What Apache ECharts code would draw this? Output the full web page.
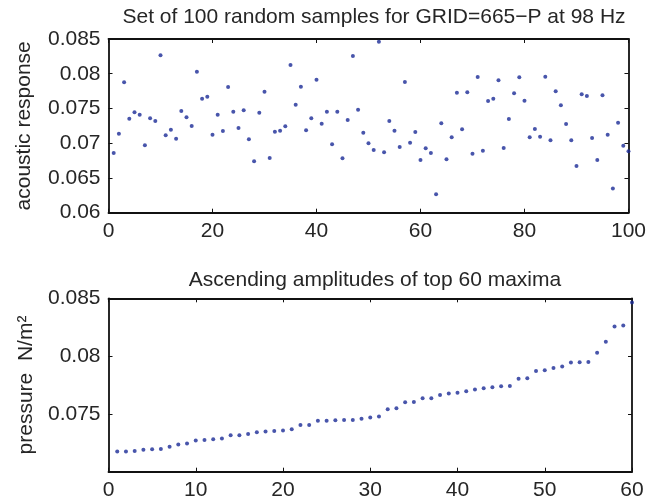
<!DOCTYPE html>
<html>
<head>
<meta charset="utf-8">
<script src="https://cdn.jsdelivr.net/npm/echarts@6/dist/echarts.min.js"></script>
<style>
html,body{margin:0;padding:0;background:#fff;}
#chart{width:649px;height:504px;}
</style>
</head>
<body>
<div id="chart"></div>
<script>
// ---- data ----
var topTitle = 'Set of 100 random samples for GRID=665\u2212P at 98 Hz';
var bottomTitle = 'Ascending amplitudes of top 60 maxima';
var topYLabel = 'acoustic response';
var bottomYLabel = 'pressure  N/m\u00B2';

var topSamples = [
  0.06859, 0.07137, 0.07876, 0.07353, 0.07444, 0.07411, 0.06969, 0.07358, 0.07320, 0.08265,
  0.07113, 0.07195, 0.07065, 0.07464, 0.07372, 0.07248, 0.08030, 0.07641, 0.07670, 0.07123,
  0.07411, 0.07176, 0.07809, 0.07454, 0.07219, 0.07473, 0.07056, 0.06739, 0.07440, 0.07742,
  0.06787, 0.07166, 0.07181, 0.07243, 0.08126, 0.07555, 0.07814, 0.07185, 0.07358, 0.07915,
  0.07281, 0.07454, 0.06984, 0.07454, 0.06782, 0.07334, 0.08255, 0.07483, 0.07152, 0.06998,
  0.06902, 0.08462, 0.06869, 0.07320, 0.07181, 0.06945, 0.07881, 0.07008, 0.07161, 0.06758,
  0.06926, 0.06859, 0.06264, 0.07286, 0.06768, 0.07085, 0.07728, 0.07200, 0.07732, 0.06850,
  0.07953, 0.06893, 0.07608, 0.07641, 0.07905, 0.06931, 0.07349, 0.07718, 0.07948, 0.07612,
  0.07085, 0.07205, 0.07094, 0.07958, 0.07041, 0.07747, 0.07545, 0.07277, 0.07041, 0.06672,
  0.07704, 0.07680, 0.07075, 0.06758, 0.07689, 0.07123, 0.06350, 0.07296, 0.06965, 0.06883
];

var sortedMaxima = [
  0.07174, 0.07174, 0.07180, 0.07189, 0.07194, 0.07197, 0.07215, 0.07235, 0.07243, 0.07269,
  0.07275, 0.07281, 0.07287, 0.07316, 0.07316, 0.07327, 0.07342, 0.07347, 0.07353, 0.07356,
  0.07367, 0.07405, 0.07405, 0.07440, 0.07440, 0.07445, 0.07448, 0.07448, 0.07457, 0.07468,
  0.07477, 0.07540, 0.07549, 0.07601, 0.07604, 0.07635, 0.07635, 0.07664, 0.07676, 0.07684,
  0.07696, 0.07710, 0.07722, 0.07731, 0.07739, 0.07742, 0.07805, 0.07808, 0.07872, 0.07878,
  0.07898, 0.07909, 0.07944, 0.07947, 0.07950, 0.08030, 0.08125, 0.08255, 0.08264, 0.08463
];

var topX = {min: 0, max: 100, interval: 20};
var topY = {min: 0.06, max: 0.085, interval: 0.005};
var botX = {min: 0, max: 60, interval: 10};
var botY = {min: 0.07, max: 0.085, interval: 0.005, hideBelow: 0.0705};

// ---- chart ----
var FONT = "'Liberation Sans', Arial, Helvetica, sans-serif";
var TXT = '#262626';
var AX = '#111111';
var FS = 21;

function fmtY(v){ return String(+(+v).toFixed(3)); }

function xAx(gi, cfg, pos, labels){
  return {
    type: 'value', gridIndex: gi, position: pos,
    min: cfg.min, max: cfg.max, interval: cfg.interval,
    axisLine: {show: true, onZero: false, lineStyle: {color: AX, width: 1.8}},
    axisTick: {show: true, inside: true, length: 4, lineStyle: {color: AX, width: 1}},
    axisLabel: {show: labels, margin: 8, color: TXT, fontFamily: FONT, fontSize: FS},
    splitLine: {show: false}
  };
}
function yAx(gi, cfg, pos, labels, name, gap){
  return {
    type: 'value', gridIndex: gi, position: pos,
    min: cfg.min, max: cfg.max, interval: cfg.interval,
    name: name || '', nameLocation: 'middle', nameGap: gap || 0, nameRotate: 90,
    nameTextStyle: {color: TXT, fontFamily: FONT, fontSize: FS},
    axisLine: {show: true, onZero: false, lineStyle: {color: AX, width: 1.8}},
    axisTick: {show: true, inside: true, length: 4, lineStyle: {color: AX, width: 1}},
    axisLabel: {show: labels, margin: 8, color: TXT, fontFamily: FONT, fontSize: FS,
      formatter: function(v){
        if (cfg.hideBelow !== undefined && v < cfg.hideBelow) return '';
        return fmtY(v);
      }},
    splitLine: {show: false}
  };
}

var chart = echarts.init(document.getElementById('chart'), null, {renderer: 'canvas'});
chart.setOption({
  animation: false,
  backgroundColor: '#ffffff',
  title: [
    {text: topTitle, left: 369, top: 2, textAlign: 'center',
     textStyle: {color: TXT, fontFamily: FONT, fontSize: FS, fontWeight: 'normal'}},
    {text: bottomTitle, left: 370, top: 265, textAlign: 'center',
     textStyle: {color: TXT, fontFamily: FONT, fontSize: FS, fontWeight: 'normal'}}
  ],
  grid: [
    {left: 108.5, top: 39, width: 523.5, height: 173.7, containLabel: false},
    {left: 108.5, top: 298.3, width: 523.5, height: 173.4, containLabel: false}
  ],
  xAxis: [
    xAx(0, topX, 'bottom', true),
    xAx(0, topX, 'top', false),
    xAx(1, botX, 'bottom', true),
    xAx(1, botX, 'top', false)
  ],
  yAxis: [
    yAx(0, topY, 'left', true, topYLabel, 74),
    yAx(0, topY, 'right', false),
    yAx(1, botY, 'left', true, bottomYLabel, 72),
    yAx(1, botY, 'right', false)
  ],
  series: [
    {type: 'scatter', xAxisIndex: 0, yAxisIndex: 0, symbol: 'circle', symbolSize: 4,
     itemStyle: {color: '#1a2a96'},
     data: topSamples.map(function(v, i){ return [i + 1, v]; })},
    {type: 'scatter', xAxisIndex: 2, yAxisIndex: 2, symbol: 'circle', symbolSize: 4,
     itemStyle: {color: '#1a2a96'},
     data: sortedMaxima.map(function(v, i){ return [i + 1, v]; })}
  ]
});
</script>
</body>
</html>
